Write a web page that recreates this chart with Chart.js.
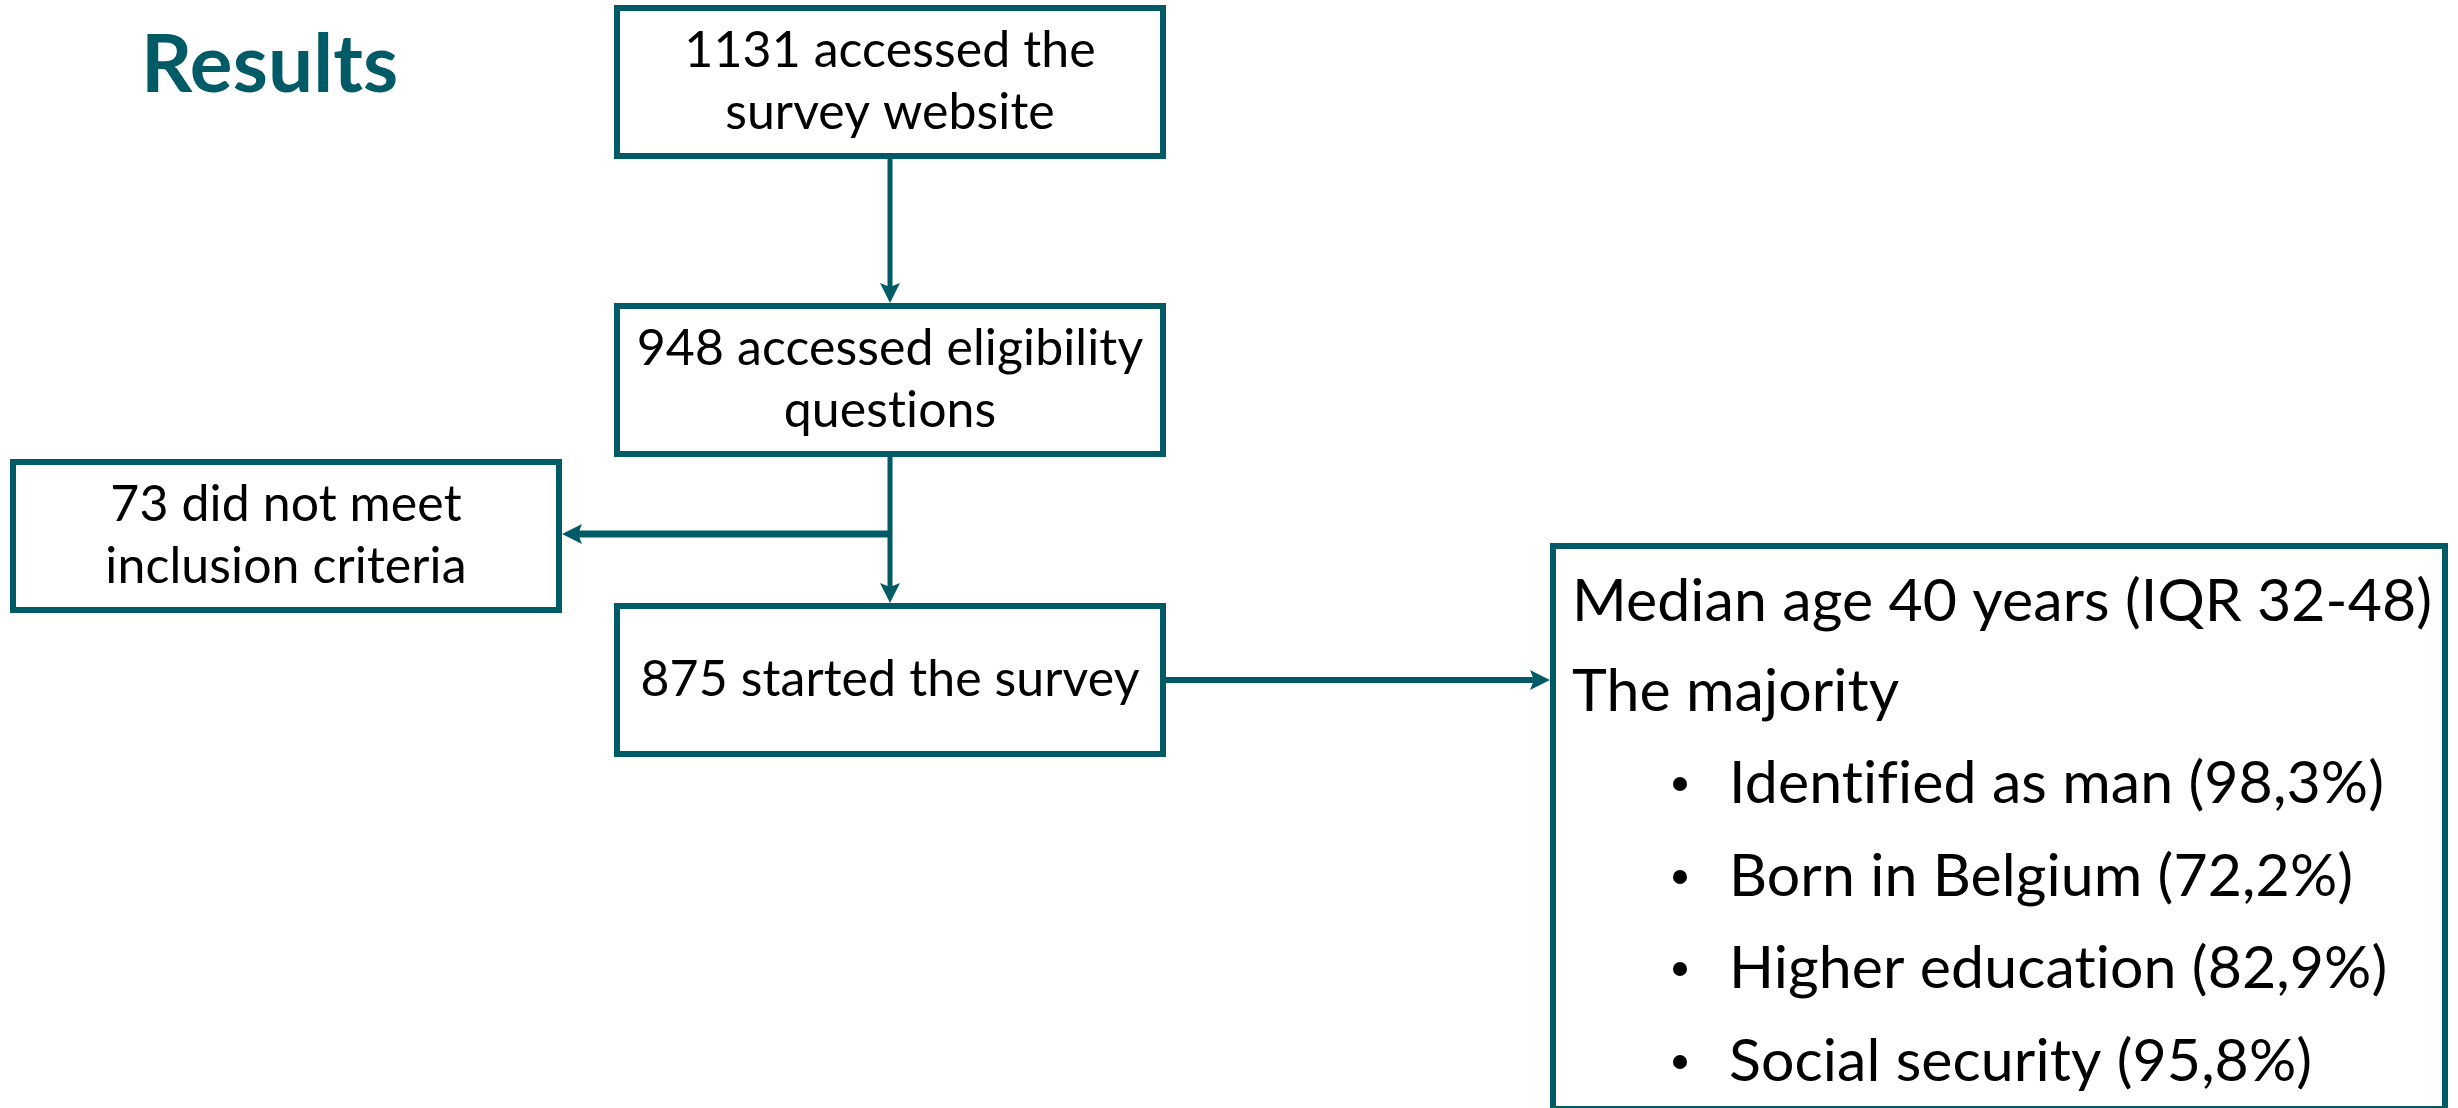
<!DOCTYPE html>
<html>
<head>
<meta charset="utf-8">
<script src="https://cdn.jsdelivr.net/npm/chart.js@4.4.0/dist/chart.umd.min.js"></script>
<style>
  html, body { margin: 0; padding: 0; background: #fff; overflow: hidden; }
  #wrap { width: 2458px; height: 1108px; position: relative; }
</style>
</head>
<body>
<div id="wrap"><canvas id="flow-chart"></canvas></div>
<script>
// Datos del diagrama
const stepCounts = [1131, 948, 73, 875];
const stepTexts = [
  ['accessed the', 'survey website'],
  ['accessed eligibility', 'questions'],
  ['did not meet', 'inclusion criteria'],
  ['started the survey']
];
const medianAge = 40;
const ageIqr = [32, 48];
const traitLabels = ['Identified as man', 'Born in Belgium', 'Higher education', 'Social security'];
const traitPercent = [98.3, 72.2, 82.9, 95.8];

// Layout (unidades de la escala = pixeles)
const teal = '#005b66';
const boxes = [
  { x0: 617, y0: 8, x1: 1163, y1: 156 },
  { x0: 617, y0: 306, x1: 1163, y1: 454 },
  { x0: 13, y0: 462, x1: 559, y1: 610 },
  { x0: 617, y0: 606, x1: 1163, y1: 754 }
];
const infoBox = { x0: 1553, y0: 546, x1: 2445, y1: 1109 };
const arrows = [
  { from: [890, 156], to: [890, 303], w: 5 },
  { from: [890, 454], to: [890, 603], w: 5 },
  { from: [892, 534], to: [562, 534], w: 7 },
  { from: [1163, 680], to: [1550, 680], w: 6 }
];

const fmtPct = v => v.toFixed(1).replace('.', ',') + '%';

const flowPlugin = {
  id: 'flow',
  afterDraw(chart) {
    const ctx = chart.ctx;
    const sx = chart.scales.x, sy = chart.scales.y;
    const px = v => sx.getPixelForValue(v);
    const py = v => sy.getPixelForValue(v);
    ctx.save();
    // sin ligaduras (como en el original)
    if ('letterSpacing' in ctx) ctx.letterSpacing = '0.1px';

    // titulo
    ctx.fillStyle = teal;
    ctx.font = 'bold 80px Lato, "Open Sans", sans-serif';
    ctx.textAlign = 'left';
    ctx.textBaseline = 'middle';
    ctx.fillText('Results', px(141), py(66));

    // flechas
    ctx.strokeStyle = teal;
    ctx.fillStyle = teal;
    arrows.forEach(a => {
      const x0 = px(a.from[0]), y0 = py(a.from[1]);
      const x1 = px(a.to[0]), y1 = py(a.to[1]);
      const ang = Math.atan2(y1 - y0, x1 - x0);
      const len = 20, half = 10;
      const c = Math.cos(ang), s = Math.sin(ang);
      ctx.lineWidth = a.w;
      ctx.beginPath();
      ctx.moveTo(x0, y0);
      ctx.lineTo(x1 - c * (len - 4), y1 - s * (len - 4));
      ctx.stroke();
      ctx.beginPath();
      ctx.moveTo(x1, y1);
      ctx.lineTo(x1 - c * len - s * half, y1 - s * len + c * half);
      ctx.lineTo(x1 - c * len * 0.8, y1 - s * len * 0.8);
      ctx.lineTo(x1 - c * len + s * half, y1 - s * len - c * half);
      ctx.closePath();
      ctx.fill();
    });

    // cajas
    ctx.lineWidth = 6;
    ctx.strokeStyle = teal;
    boxes.forEach((b, i) => {
      const x0 = px(b.x0), y0 = py(b.y0), x1 = px(b.x1), y1 = py(b.y1);
      ctx.fillStyle = '#fff';
      ctx.fillRect(x0, y0, x1 - x0, y1 - y0);
      ctx.strokeRect(x0, y0, x1 - x0, y1 - y0);
      const lines = stepTexts[i].slice();
      lines[0] = stepCounts[i] + ' ' + lines[0];
      ctx.fillStyle = '#000';
      ctx.font = '50px Lato, "Open Sans", sans-serif';
      ctx.textAlign = 'center';
      const cx = (x0 + x1) / 2, cy = (y0 + y1) / 2;
      const gap = 62;
      lines.forEach((t, k) => {
        ctx.fillText(t, cx, cy + (k - (lines.length - 1) / 2) * gap);
      });
    });

    // caja de caracteristicas
    const ix0 = px(infoBox.x0), iy0 = py(infoBox.y0), ix1 = px(infoBox.x1), iy1 = py(infoBox.y1);
    ctx.fillStyle = '#fff';
    ctx.fillRect(ix0, iy0, ix1 - ix0, iy1 - iy0);
    ctx.strokeRect(ix0, iy0, ix1 - ix0, iy1 - iy0);
    ctx.fillStyle = '#000';
    ctx.font = '59px Lato, "Open Sans", sans-serif';
    ctx.textAlign = 'left';
    ctx.fillText('Median age ' + medianAge + ' years (IQR ' + ageIqr[0] + '-' + ageIqr[1] + ')', px(1572), py(602));
    ctx.fillText('The majority', px(1572), py(692));
    const rowY = [784, 877, 969, 1062];
    traitLabels.forEach((lab, i) => {
      ctx.beginPath();
      ctx.arc(px(1680), py(rowY[i]), 7, 0, Math.PI * 2);
      ctx.fill();
      ctx.fillText(lab + ' (' + fmtPct(traitPercent[i]) + ')', px(1729), py(rowY[i]));
    });

    ctx.restore();
  }
};

const flowChart = new Chart(document.querySelector('#flow-chart'), {
  type: 'scatter',
  data: { datasets: [{ data: [] }] },
  options: {
    responsive: true,
    maintainAspectRatio: false,
    animation: false,
    layout: { padding: 0 },
    plugins: { legend: { display: false }, tooltip: { enabled: false }, title: { display: false } },
    scales: {
      x: { type: 'linear', min: 0, max: 2458, display: false },
      y: { type: 'linear', min: 0, max: 1108, reverse: true, display: false }
    }
  },
  plugins: [flowPlugin]
});
</script>
</body>
</html>
